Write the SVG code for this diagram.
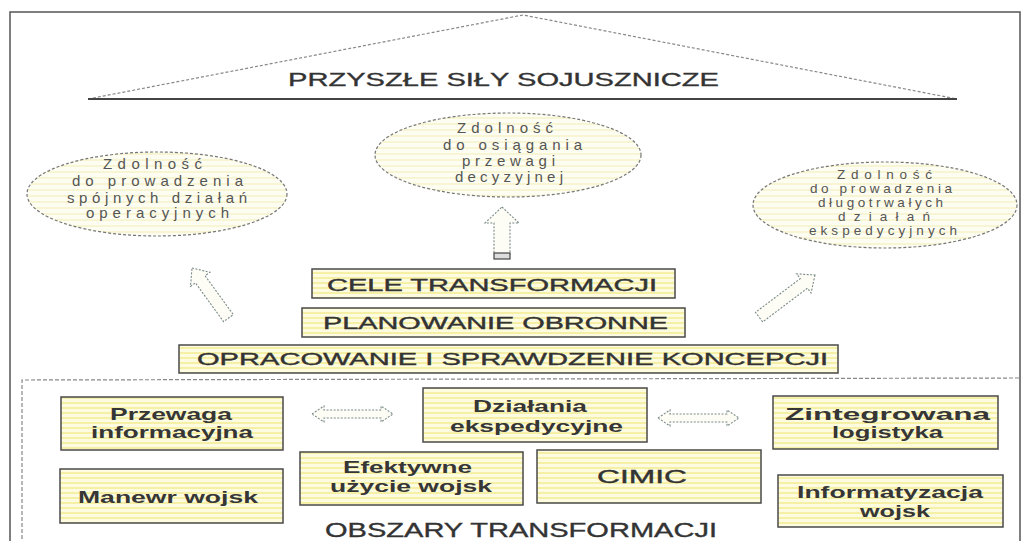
<svg xmlns="http://www.w3.org/2000/svg" width="1025" height="541" viewBox="0 0 1025 541">
  <defs>
    <!-- pale striped yellow used for box interiors -->
    <pattern id="stripes" width="8" height="5" patternUnits="userSpaceOnUse">
      <rect width="8" height="5" fill="#fdfbe0"/>
      <rect y="2" width="8" height="2" fill="#f6f0a6"/>
    </pattern>
    <pattern id="stripesLight" width="8" height="6" patternUnits="userSpaceOnUse">
      <rect width="8" height="6" fill="#fdfdf2"/>
      <rect y="3" width="8" height="2" fill="#f8f5d4"/>
    </pattern>
    <style>
      .frame { fill: none; stroke: #555; stroke-width: 1.5; }
      .dash { fill: none; stroke: #888; stroke-width: 1.2; stroke-dasharray: 4 2; }
      .box { fill: url(#stripes); stroke: #4a4a4a; stroke-width: 1.5; }
      .oval { fill: url(#stripesLight); stroke: #777; stroke-width: 1.2; stroke-dasharray: 3 2; }
      .arrow { fill: #fdfdf6; stroke: #7a8a88; stroke-width: 1.1; stroke-dasharray: 2 1.5; }
      .lbl { font-family: "Liberation Sans", Arial, sans-serif; font-weight: bold; fill: #363636; font-size: 17px; }
      .hd { font-family: "Liberation Sans", Arial, sans-serif; font-weight: normal; fill: #333; stroke: #333; stroke-width: 0.35; }
      .ov { font-family: "Liberation Sans", Arial, sans-serif; fill: #555; font-size: 15px; }
      .ovs { font-family: "Liberation Sans", Arial, sans-serif; fill: #555; font-size: 13.5px; }
    </style>
  </defs>

  <rect width="1025" height="541" fill="#ffffff"/>

  <!-- outer frame -->
  <rect class="frame" x="10" y="12" width="1010" height="540"/>

  <!-- roof -->
  <g id="roof">
    <polyline points="88,99 523,15 957,99" fill="none" stroke="#888" stroke-width="1.2" stroke-dasharray="3 2"/>
    <line x1="88" y1="99" x2="957" y2="99" stroke="#444" stroke-width="2"/>
    <text class="hd" x="288" y="86" font-size="19" textLength="431" lengthAdjust="spacingAndGlyphs">PRZYSZŁE SIŁY SOJUSZNICZE</text>
  </g>

  <!-- capability ovals -->
  <g id="oval-left">
    <ellipse class="oval" cx="157" cy="194" rx="130" ry="42"/>
    <text class="ov" x="103" y="169" textLength="99" lengthAdjust="spacing">Zdolność</text>
    <text class="ov" x="72" y="186" textLength="171" lengthAdjust="spacing">do prowadzenia</text>
    <text class="ov" x="67" y="203" textLength="180" lengthAdjust="spacing">spójnych działań</text>
    <text class="ov" x="86" y="218" textLength="143" lengthAdjust="spacing">operacyjnych</text>
  </g>
  <g id="oval-middle">
    <ellipse class="oval" cx="508" cy="155" rx="133" ry="42"/>
    <text class="ov" x="457" y="133" textLength="96" lengthAdjust="spacing">Zdolność</text>
    <text class="ov" x="443" y="150" textLength="139" lengthAdjust="spacing">do osiągania</text>
    <text class="ov" x="462" y="166" textLength="93" lengthAdjust="spacing">przewagi</text>
    <text class="ov" x="455" y="182" textLength="108" lengthAdjust="spacing">decyzyjnej</text>
  </g>
  <g id="oval-right">
    <ellipse class="oval" cx="885" cy="205" rx="132" ry="43"/>
    <text class="ovs" x="837" y="179" textLength="95" lengthAdjust="spacing">Zdolność</text>
    <text class="ovs" x="810" y="193" textLength="142" lengthAdjust="spacing">do prowadzenia</text>
    <text class="ovs" x="818" y="207" textLength="125" lengthAdjust="spacing">długotrwałych</text>
    <text class="ovs" x="838" y="221" textLength="92" lengthAdjust="spacing">działań</text>
    <text class="ovs" x="809" y="235" textLength="148" lengthAdjust="spacing">ekspedycyjnych</text>
  </g>

  <!-- central stack -->
  <g id="cele">
    <rect class="box" x="312" y="269" width="363" height="29"/>
    <text class="hd" x="327" y="291" font-size="16" textLength="330" lengthAdjust="spacingAndGlyphs">CELE TRANSFORMACJI</text>
  </g>
  <g id="planowanie">
    <rect class="box" x="302" y="308" width="383" height="29"/>
    <text class="hd" x="323" y="329" font-size="16" textLength="345" lengthAdjust="spacingAndGlyphs">PLANOWANIE OBRONNE</text>
  </g>
  <g id="opracowanie">
    <rect class="box" x="179" y="345" width="659" height="28"/>
    <text class="hd" x="197" y="365" font-size="16" textLength="631" lengthAdjust="spacingAndGlyphs">OPRACOWANIE I SPRAWDZENIE KONCEPCJI</text>
  </g>

  <!-- transformation areas -->
  <g id="obszary">
    <polyline class="dash" points="22,545 22,380 1020,378"/>
    <text class="hd" x="325" y="537" font-size="20" textLength="392" lengthAdjust="spacingAndGlyphs">OBSZARY TRANSFORMACJI</text>
  </g>
  <g id="przewaga">
    <rect class="box" x="61" y="397" width="222" height="53"/>
    <text class="lbl" x="110" y="420" textLength="122" lengthAdjust="spacingAndGlyphs">Przewaga</text>
    <text class="lbl" x="91" y="438" textLength="162" lengthAdjust="spacingAndGlyphs">informacyjna</text>
  </g>
  <g id="manewr">
    <rect class="box" x="60" y="469" width="223" height="54"/>
    <text class="lbl" x="78" y="503" textLength="180" lengthAdjust="spacingAndGlyphs">Manewr wojsk</text>
  </g>
  <g id="dzialania">
    <rect class="box" x="423" y="388" width="224" height="54"/>
    <text class="lbl" x="473" y="412" textLength="114" lengthAdjust="spacingAndGlyphs">Działania</text>
    <text class="lbl" x="450" y="432" textLength="173" lengthAdjust="spacingAndGlyphs">ekspedycyjne</text>
  </g>
  <g id="efektywne">
    <rect class="box" x="300" y="452" width="223" height="53"/>
    <text class="lbl" x="343" y="473" textLength="129" lengthAdjust="spacingAndGlyphs">Efektywne</text>
    <text class="lbl" x="330" y="492" textLength="162" lengthAdjust="spacingAndGlyphs">użycie wojsk</text>
  </g>
  <g id="cimic">
    <rect class="box" x="537" y="450" width="224" height="53"/>
    <text class="hd" x="597" y="483" font-size="18" textLength="90" lengthAdjust="spacingAndGlyphs">CIMIC</text>
  </g>
  <g id="zintegrowana">
    <rect class="box" x="773" y="396" width="225" height="53"/>
    <text class="lbl" x="785" y="420" textLength="205" lengthAdjust="spacingAndGlyphs">Zintegrowana</text>
    <text class="lbl" x="832" y="438" textLength="111" lengthAdjust="spacingAndGlyphs">logistyka</text>
  </g>
  <g id="informatyzacja">
    <rect class="box" x="778" y="475" width="225" height="52"/>
    <text class="lbl" x="797" y="498" textLength="186" lengthAdjust="spacingAndGlyphs">Informatyzacja</text>
    <text class="lbl" x="860" y="517" textLength="70" lengthAdjust="spacingAndGlyphs">wojsk</text>
  </g>

  <!-- block arrows -->
  <g id="connectors">
    <!-- up arrow from the stack to the middle oval -->
    <polygon class="arrow" points="502,207 519,223 510,223 510,254 494,254 494,223 485,223"/>
    <rect x="494" y="253" width="16" height="6" fill="#ddd" stroke="#444" stroke-width="1.2"/>
    <!-- diagonal arrows to the side ovals -->
    <polygon class="arrow" transform="translate(192,268) rotate(-36)" points="0,0 12,14 6,14 6,62 -6,62 -6,14 -12,14"/>
    <polygon class="arrow" transform="translate(815,275) rotate(53)" points="0,0 12,14 6,14 6,70 -6,70 -6,14 -12,14"/>
    <!-- two-way arrows between areas -->
    <polygon class="arrow" points="312,414 324,406 324,410 381,410 381,406 393,414 381,422 381,418 324,418 324,422"/>
    <polygon class="arrow" points="658,418 670,410 670,414 727,414 727,410 739,418 727,426 727,422 670,422 670,426"/>
  </g>
</svg>
